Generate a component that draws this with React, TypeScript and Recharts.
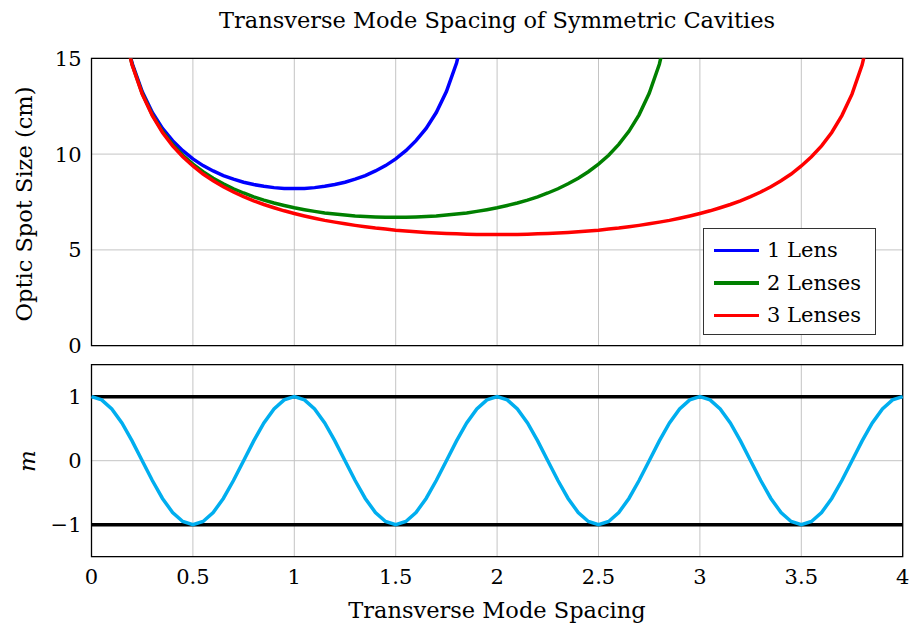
import {
  LineChart, Line, XAxis, YAxis, CartesianGrid,
  ReferenceLine, ReferenceArea,
} from 'recharts';

// top panel: spot size vs transverse mode spacing
const spacing = [
  0.15, 0.2, 0.25, 0.3, 0.35, 0.4, 0.45, 0.5, 0.55, 0.6, 0.65, 0.7, 0.75, 0.8, 0.85, 0.9, 0.95, 1.0,
  1.05, 1.1, 1.15, 1.2, 1.25, 1.3, 1.35, 1.4, 1.45, 1.5, 1.55, 1.6, 1.65, 1.7, 1.75, 1.8, 1.85, 1.9, 1.95, 2.0,
  2.05, 2.1, 2.15, 2.2, 2.25, 2.3, 2.35, 2.4, 2.45, 2.5, 2.55, 2.6, 2.65, 2.7, 2.75, 2.8, 2.85, 2.9, 2.95, 3.0,
  3.05, 3.1, 3.15, 3.2, 3.25, 3.3, 3.35, 3.4, 3.45, 3.5, 3.55, 3.6, 3.65, 3.7, 3.75, 3.8, 3.85,
];

const oneLens = [
  16.97, 14.75, 13.26, 12.17, 11.34, 10.7, 10.18, 9.75, 9.4, 9.12, 8.88, 8.69, 8.53, 8.41, 8.32, 8.25, 8.21, 8.2,
  8.21, 8.25, 8.32, 8.41, 8.53, 8.69, 8.88, 9.12, 9.4, 9.75, 10.18, 10.7, 11.34, 12.17, 13.26, 14.75, 16.97,
];

const twoLenses = [
  16.94, 14.69, 13.17, 12.05, 11.19, 10.51, 9.94, 9.48, 9.08, 8.74, 8.45, 8.19, 7.97, 7.77, 7.6, 7.45, 7.32, 7.2,
  7.1, 7.01, 6.93, 6.87, 6.82, 6.77, 6.74, 6.72, 6.7, 6.7,
  6.7, 6.72, 6.74, 6.77, 6.82, 6.87, 6.93, 7.01, 7.1, 7.2, 7.32, 7.45, 7.6, 7.77, 7.97, 8.19, 8.45, 8.74,
  9.08, 9.48, 9.94, 10.51, 11.19, 12.05, 13.17, 14.69, 16.94,
];

const threeLenses = [
  16.92, 14.66, 13.13, 12.01, 11.13, 10.43, 9.86, 9.38, 8.96, 8.61, 8.3, 8.02, 7.78, 7.56, 7.37, 7.2, 7.04, 6.9,
  6.77, 6.65, 6.54, 6.45, 6.36, 6.28, 6.21, 6.14, 6.09, 6.03, 5.99, 5.95, 5.91, 5.88, 5.86, 5.84, 5.82, 5.81, 5.8, 5.8,
  5.8, 5.81, 5.82, 5.84, 5.86, 5.88, 5.91, 5.95, 5.99, 6.03, 6.09, 6.14, 6.21, 6.28, 6.36, 6.45, 6.54, 6.65,
  6.77, 6.9, 7.04, 7.2, 7.37, 7.56, 7.78, 8.02, 8.3, 8.61, 8.96, 9.38, 9.86, 10.43, 11.13, 12.01, 13.13, 14.66, 16.92,
];

const seriesNames = ['1 Lens', '2 Lenses', '3 Lenses'];
const seriesColors = ['#0000ff', '#008000', '#ff0000'];

// bottom panel: m
const mSpacing = [
  0, 0.05, 0.1, 0.15, 0.2, 0.25, 0.3, 0.35, 0.4, 0.45, 0.5, 0.55, 0.6, 0.65, 0.7, 0.75, 0.8, 0.85, 0.9, 0.95,
  1, 1.05, 1.1, 1.15, 1.2, 1.25, 1.3, 1.35, 1.4, 1.45, 1.5, 1.55, 1.6, 1.65, 1.7, 1.75, 1.8, 1.85, 1.9, 1.95,
  2, 2.05, 2.1, 2.15, 2.2, 2.25, 2.3, 2.35, 2.4, 2.45, 2.5, 2.55, 2.6, 2.65, 2.7, 2.75, 2.8, 2.85, 2.9, 2.95,
  3, 3.05, 3.1, 3.15, 3.2, 3.25, 3.3, 3.35, 3.4, 3.45, 3.5, 3.55, 3.6, 3.65, 3.7, 3.75, 3.8, 3.85, 3.9, 3.95, 4,
];

const mValues = [
  1, 0.95, 0.81, 0.59, 0.31, 0, -0.31, -0.59, -0.81, -0.95, -1, -0.95, -0.81, -0.59, -0.31, 0, 0.31, 0.59, 0.81, 0.95,
  1, 0.95, 0.81, 0.59, 0.31, 0, -0.31, -0.59, -0.81, -0.95, -1, -0.95, -0.81, -0.59, -0.31, 0, 0.31, 0.59, 0.81, 0.95,
  1, 0.95, 0.81, 0.59, 0.31, 0, -0.31, -0.59, -0.81, -0.95, -1, -0.95, -0.81, -0.59, -0.31, 0, 0.31, 0.59, 0.81, 0.95,
  1, 0.95, 0.81, 0.59, 0.31, 0, -0.31, -0.59, -0.81, -0.95, -1, -0.95, -0.81, -0.59, -0.31, 0, 0.31, 0.59, 0.81, 0.95,
  1,
];

const xTicks = [0, 0.5, 1, 1.5, 2, 2.5, 3, 3.5, 4];
const topYTicks = [0, 5, 10, 15];
const bottomYTicks = [-1, 0, 1];

const FONT = '"DejaVu Serif", serif';
const GRID = '#c4c4c4';

const topData = spacing.map((x, i) => ({
  x,
  lens1: oneLens[i] ?? null,
  lens2: twoLenses[i] ?? null,
  lens3: threeLenses[i] ?? null,
}));

const bottomData = mSpacing.map((x, i) => ({ x, m: mValues[i] }));

const tickStyle = { fontSize: 21, fill: '#000', fontFamily: FONT };

export default function App() {
  return (
    <div style={{ position: 'absolute', left: 0, top: 0, width: 913, height: 631, background: '#fff', fontFamily: FONT }}>
      <div style={{ position: 'absolute', left: 91.5, width: 811, top: 7, textAlign: 'center', fontSize: 22.5, lineHeight: '26px' }}>
        Transverse Mode Spacing of Symmetric Cavities
      </div>
      <div style={{
        position: 'absolute', left: 24, top: 204, fontSize: 22.5, whiteSpace: 'nowrap',
        transform: 'translate(-50%, -50%) rotate(-90deg)',
      }}>
        Optic Spot Size (cm)
      </div>
      <div style={{
        position: 'absolute', left: 27, top: 461, fontSize: 23, fontStyle: 'italic',
        transform: 'translate(-50%, -50%) rotate(-90deg)',
      }}>
        m
      </div>
      <div style={{ position: 'absolute', left: 91.5, width: 811, top: 597, textAlign: 'center', fontSize: 22.5, lineHeight: '26px' }}>
        Transverse Mode Spacing
      </div>

      <div style={{ position: 'absolute', left: 0, top: 360 }}>
        <LineChart width={913} height={271} data={bottomData} margin={{ top: 4.7, right: 10.3, left: 31.5, bottom: 34.3 }}>
          <CartesianGrid stroke={GRID} />
          <XAxis dataKey="x" type="number" domain={[0, 4]} ticks={xTicks} height={40}
            axisLine={false} tickLine={false} tickSize={0} tickMargin={12} tick={tickStyle} />
          <YAxis type="number" domain={[-1.5, 1.5]} ticks={bottomYTicks} width={60}
            axisLine={false} tickLine={false} tickSize={0} tickMargin={10} tick={tickStyle}
            tickFormatter={(v: number) => String(v).replace('-', '\u2212')} />
          <ReferenceLine y={1} stroke="#000" strokeWidth={3.5} />
          <ReferenceLine y={-1} stroke="#000" strokeWidth={3.5} />
          <Line dataKey="m" stroke="#00aeef" strokeWidth={3.5} dot={false} isAnimationActive={false} />
          <ReferenceArea x1={0} x2={4} y1={-1.5} y2={1.5} fill="none" fillOpacity={0} stroke="#000" strokeWidth={1.3} />
        </LineChart>
      </div>

      <div style={{ position: 'absolute', left: 0, top: 0 }}>
        <LineChart width={913} height={362} data={topData} margin={{ top: 58.3, right: 10.3, left: 31.5, bottom: 16.3 }}>
          <CartesianGrid stroke={GRID} />
          <XAxis dataKey="x" type="number" domain={[0, 4]} ticks={xTicks} hide />
          <YAxis type="number" domain={[0, 15]} ticks={topYTicks} allowDataOverflow width={60}
            axisLine={false} tickLine={false} tickSize={0} tickMargin={10} tick={tickStyle} />
          <Line dataKey="lens1" name={seriesNames[0]} stroke={seriesColors[0]} strokeWidth={3.5} dot={false} isAnimationActive={false} />
          <Line dataKey="lens2" name={seriesNames[1]} stroke={seriesColors[1]} strokeWidth={3.5} dot={false} isAnimationActive={false} />
          <Line dataKey="lens3" name={seriesNames[2]} stroke={seriesColors[2]} strokeWidth={3.5} dot={false} isAnimationActive={false} />
          <ReferenceArea x1={0} x2={4} y1={0} y2={15} fill="none" fillOpacity={0} stroke="#000" strokeWidth={1.3} />
        </LineChart>
      </div>

      <div style={{
        position: 'absolute', left: 703, top: 228, width: 173, height: 107, border: '1px solid #333',
        background: '#fff', fontSize: 21, color: '#000', paddingTop: 5, boxSizing: 'border-box',
      }}>
        {seriesNames.map((name, i) => (
          <div key={name} style={{ display: 'flex', alignItems: 'center', height: 32.5 }}>
            <span style={{ display: 'inline-block', width: 45, height: 3.5, background: seriesColors[i], marginLeft: 10, marginRight: 8 }} />
            <span>{name}</span>
          </div>
        ))}
      </div>
    </div>
  );
}
